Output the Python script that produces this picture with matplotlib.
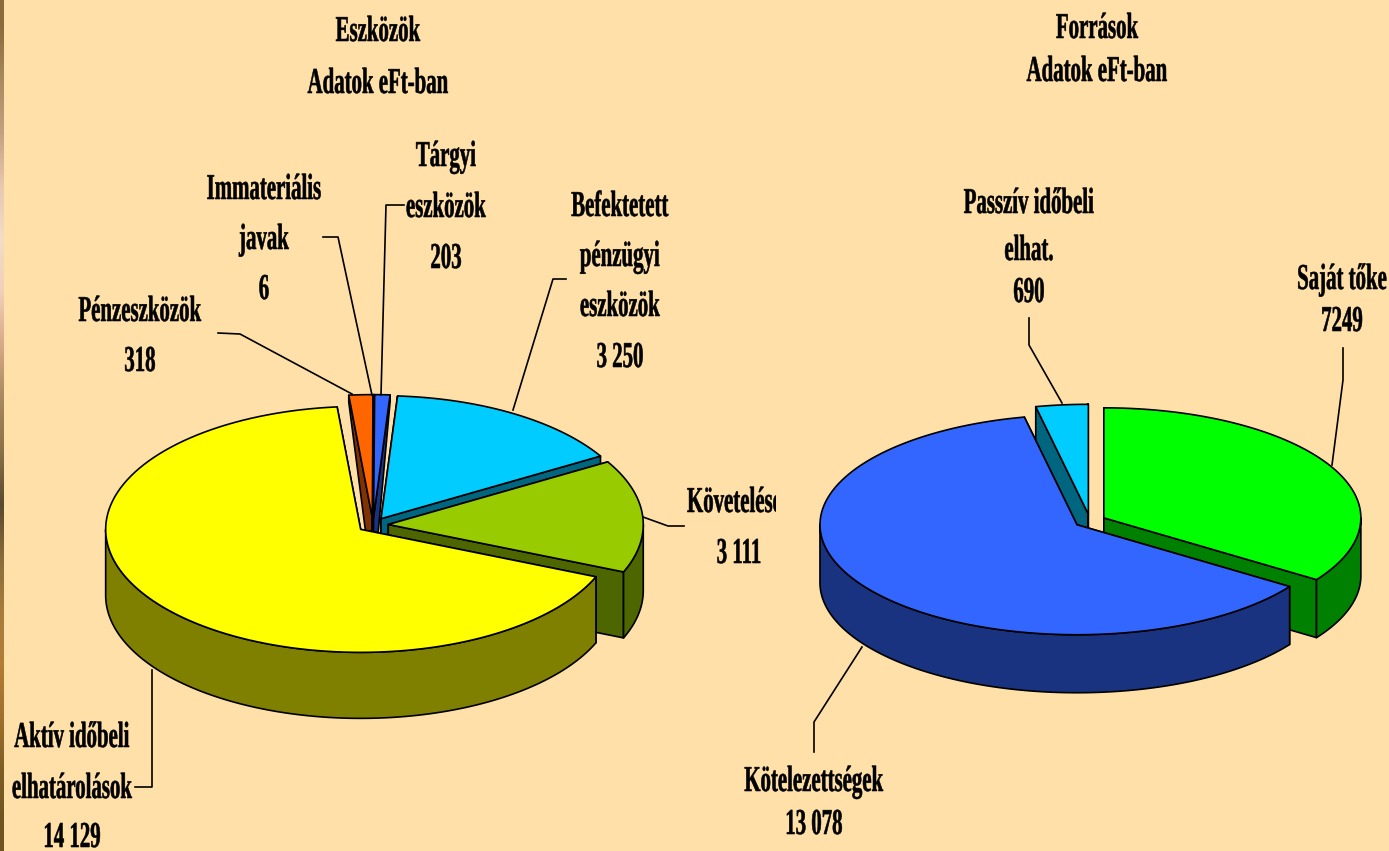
import numpy as np
import matplotlib
matplotlib.use("Agg")
import matplotlib.pyplot as plt
from matplotlib.colors import to_rgb
from matplotlib.patches import Polygon
from matplotlib.patheffects import AbstractPathEffect
from matplotlib.transforms import Affine2D, Bbox

# Eszközök (clockwise, starting at the orange slice)
assets_names = ['Pénzeszközök', 'Immateriális javak', 'Tárgyi eszközök',
                'Befektetett pénzügyi eszközök', 'Követelések', 'Aktív időbeli elhatárolások']
assets_values = [318, 6, 203, 3250, 3111, 14129]
assets_top = ['#FF6600', '#FFCC99', '#3366FF', '#00CCFF', '#99CC00', '#FFFF00']
assets_side = ['#803300', '#806650', '#1A3380', '#006680', '#4D6600', '#808000']
assets_draw_order = [0, 1, 2, 3, 4, 5]

# Források (clockwise from the top)
sources_names = ['Saját tőke', 'Kötelezettségek', 'Passzív időbeli elhat.']
sources_values = [7249, 13078, 690]
sources_top = ['#00FF00', '#3366FF', '#00CCFF']
sources_side = ['#008000', '#1A3380', '#006680']
sources_draw_order = [2, 0, 1]

background = '#FFE0A8'
strip_colors = ['#8B6B3C', '#A88A60', '#C4A080', '#E8C8B0', '#F4DCC8', '#F0D0B8', '#D8A888',
                '#A88860', '#8A7048', '#5A4A30', '#8A6C3C', '#A87C3C', '#B47C38', '#A0702C',
                '#7E5E24', '#6E5420']

fig = plt.figure(figsize=(13.89, 8.51), dpi=100, facecolor=background)
ax = fig.add_axes([0, 0, 1, 1])
ax.set_xlim(0, 1389)
ax.set_ylim(851, 0)
ax.axis('off')

strip = np.array([[to_rgb(c)] for c in strip_colors])
ax.imshow(strip, extent=(0, 4, 851, 0), aspect='auto', interpolation='bilinear', zorder=0)
ax.set_xlim(0, 1389)
ax.set_ylim(851, 0)


class TallText(AbstractPathEffect):
    # the original lettering is squeezed sideways, so stretch the glyphs upwards
    def __init__(self, k, down, weight):
        super().__init__()
        self.k = k
        self.down = down
        self.weight = weight

    def draw_path(self, renderer, gc, tpath, affine, rgbFace=None):
        tall = Affine2D().scale(1, self.k) + affine + Affine2D().translate(0, -self.down)
        gc0 = renderer.new_gc()
        gc0.copy_properties(gc)
        gc0.set_linewidth(self.weight)
        gc0.set_foreground('black')
        renderer.draw_path(gc0, tpath, tall, rgbFace)
        gc0.restore()


def rim_xy(tip, rx, ry, theta):
    return tip[0] + rx * np.sin(theta), tip[1] - ry * np.cos(theta)


def pie3d(values, top, side, order, center, rx, ry, depth, start, explode, back):
    angles = np.radians(start + np.cumsum([0] + values) / sum(values) * 360)
    z = 2
    style = dict(edgecolor='black', linewidth=1.2, joinstyle='round')

    def drop(theta):
        # the back of the disc gets a shorter wall than the front
        c = max(np.cos(theta), 0)
        return depth * (back + (1 - back) * (1 - c))

    for i in order:
        a0, a1 = angles[i], angles[i + 1]
        mid = (a0 + a1) / 2
        tip = (center[0] + explode * rx * np.sin(mid), center[1] - explode * ry * np.cos(mid))

        # cut faces
        for a in (a0, a1):
            x, y = rim_xy(tip, rx, ry, a)
            pts = [tip, (x, y), (x, y + drop(a)), (tip[0], tip[1] + depth)]
            ax.add_patch(Polygon(pts, closed=True, facecolor=side[i], zorder=z, **style))
        # outer wall, only the part facing us
        lo = max(a0, np.pi / 2)
        hi = min(a1, 3 * np.pi / 2)
        if lo < hi:
            t = np.linspace(lo, hi, 120)
            x, y = rim_xy(tip, rx, ry, t)
            pts = np.r_[np.c_[x, y], np.c_[x[::-1], y[::-1] + depth]]
            ax.add_patch(Polygon(pts, closed=True, facecolor=side[i], zorder=z, **style))
        # top
        t = np.linspace(a0, a1, 120)
        x, y = rim_xy(tip, rx, ry, t)
        pts = np.r_[[tip], np.c_[x, y]]
        ax.add_patch(Polygon(pts, closed=True, facecolor=top[i], zorder=z, **style))
        z += 1


pie3d(assets_values, assets_top, assets_side, assets_draw_order,
      center=(373, 525), rx=255, ry=123, depth=66, start=-5.3, explode=0.06, back=0.1)
pie3d(sources_values, sources_top, sources_side, sources_draw_order,
      center=(1090, 521), rx=257, ry=110, depth=58, start=0, explode=0.061, back=0.6)

font = dict(family='Liberation Serif', fontweight='bold', fontsize=15, color='black',
            ha='center', va='center', zorder=20, path_effects=[TallText(1.75, 6, 0.4)])

# (text, x, y of each line)
labels = [
    ('Eszközök', 378, 30), ('Adatok eFt-ban', 378, 82),
    ('Források', 1097, 27), ('Adatok eFt-ban', 1097, 70),
    ('Tárgyi', 446, 155), ('eszközök', 446, 206), ('203', 446, 257),
    ('Immateriális', 264, 188), ('javak', 264, 238), ('6', 264, 288),
    ('Pénzeszközök', 140, 310), ('318', 140, 360),
    ('Befektetett', 620, 205), ('pénzügyi', 620, 255), ('eszközök', 620, 305), ('3 250', 620, 356),
    ('3 111', 739, 552),
    ('Aktív időbeli', 72, 736), ('elhatárolások', 72, 787), ('14 129', 72, 836),
    ('Passzív időbeli', 1029, 202), ('elhat.', 1029, 249), ('690', 1029, 291),
    ('Saját tőke', 1342, 278), ('7249', 1342, 320),
    ('Kötelezettségek', 814, 780), ('13 078', 814, 823),
]
for s, x, y in labels:
    ax.text(x, y, s, **font)

# this label is cut off by its box in the original
cut = ax.text(687, 501, 'Követelések', **{**font, 'ha': 'left'})
cut.set_clip_on(True)
cut.set_clip_box(Bbox.from_extents(0, 0, 776, 851))

leaders = [
    ([381, 386, 404], [395, 205, 205]),
    ([323, 338, 372], [237, 237, 395]),
    ([218, 240, 352], [333, 334, 394]),
    ([566, 553, 513], [279, 279, 410]),
    ([643, 668, 684], [517, 526, 526]),
    ([152, 152, 135], [670, 787, 787]),
    ([1029, 1029, 1062], [318, 345, 403]),
    ([1332, 1343, 1343], [465, 380, 348]),
    ([862, 814, 814], [647, 722, 752]),
]
for xs, ys in leaders:
    ax.plot(xs, ys, color='black', linewidth=1.2, zorder=15)

fig.savefig('out.png', dpi=100, facecolor=background)
